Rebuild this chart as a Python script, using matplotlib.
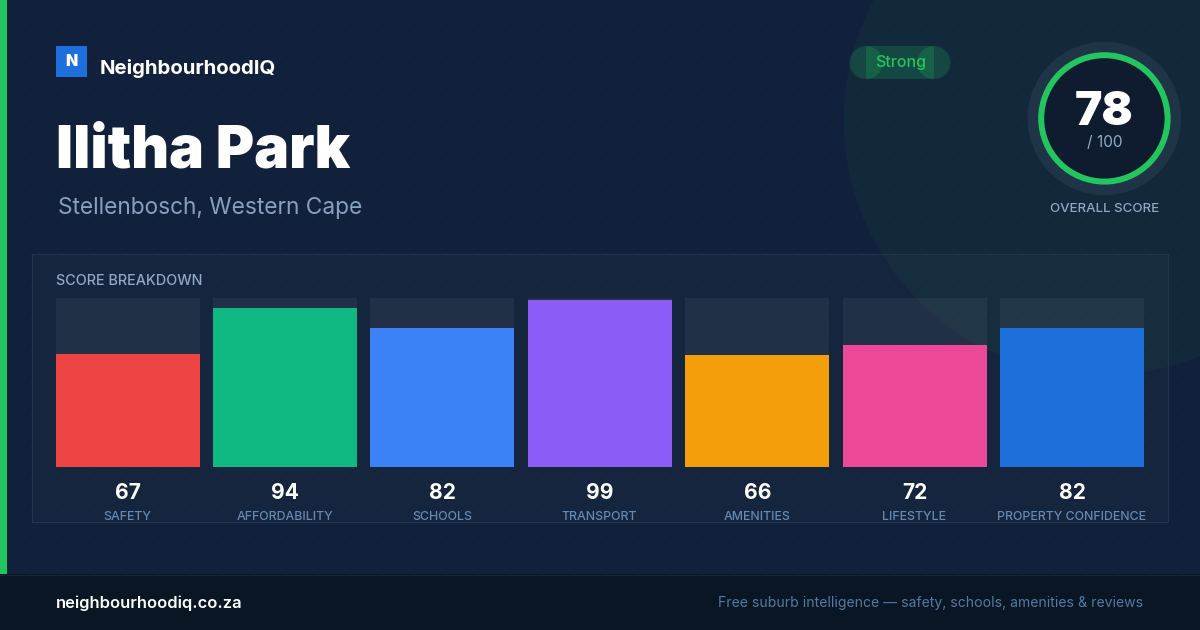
import matplotlib
matplotlib.use("Agg")
import matplotlib.pyplot as plt
from matplotlib.patches import Circle, Rectangle

categories = ["SAFETY", "AFFORDABILITY", "SCHOOLS", "TRANSPORT", "AMENITIES", "LIFESTYLE", "PROPERTY CONFIDENCE"]
scores = [67, 94, 82, 99, 66, 72, 82]
bar_colors = ["#ef4444", "#10b981", "#3b82f6", "#8b5cf6", "#f59e0b", "#ec4899", "#1d6fdb"]
overall = 78
max_score = 100

plt.rcParams['font.family'] = ['Inter', 'DejaVu Sans']

fig = plt.figure(figsize=(12, 6.3), dpi=100)
bg = fig.add_axes([0, 0, 1, 1])
bg.set_xlim(0, 1200)
bg.set_ylim(630, 0)
bg.axis("off")


def px(size):
    # css pixels to points
    return size * 0.72


# background
bg.add_patch(Rectangle((0, 0), 1200, 630, fc="#12213b", ec="none", zorder=0))
bg.add_patch(Circle((1100, 120), 256, fc="#22c55e", alpha=0.05, ec="none", zorder=1))

# dot pattern
dot_x = list(range(24, 1200, 32))
dot_y = list(range(24, 574, 32))
bg.scatter([x for x in dot_x for y in dot_y], [y for x in dot_x for y in dot_y],
           s=3, c="#ffffff", alpha=0.022, linewidths=0, zorder=2)

# side stripe and footer
bg.add_patch(Rectangle((0, 0), 7, 574, fc="#22c55e", ec="none", zorder=3))
bg.add_patch(Rectangle((0, 574), 1200, 56, fc="#0a1624", ec="none", zorder=3))
bg.plot([0, 1200], [574.5, 574.5], color="#16243a", lw=0.8, zorder=4)

# logo
bg.add_patch(Rectangle((56, 46), 31, 31, fc="#1d6fdb", ec="none", zorder=4))
bg.text(71.5, 61, "N", color="white", fontsize=px(16), fontweight="black", ha="center", va="center", zorder=5)
bg.text(100, 68.5, "NeighbourhoodIQ", color="white", fontsize=px(20.35), fontweight="bold", ha="left", va="center", zorder=5)

# title
bg.text(56, 168, "Ilitha Park", color="white", fontsize=px(58.7), fontweight="black", ha="left", va="baseline", zorder=5)
bg.text(58, 214, "Stellenbosch, Western Cape", color="#86a1bf", fontsize=px(22.7), ha="left", va="baseline", zorder=5)

# badge
for cx in [866, 934]:
    bg.add_patch(Circle((cx, 62.5), 16.5, fc="#22c55e", alpha=0.2, ec="none", zorder=4))
bg.add_patch(Rectangle((866, 46), 68, 33, fc="#22c55e", alpha=0.2, ec="none", zorder=4))
bg.text(900.5, 67, "Strong", color="#22c55e", fontsize=px(16), fontweight="medium", ha="center", va="baseline", zorder=5)

# score ring
cx, cy = 1104.4, 118.4
bg.add_patch(Circle((cx, cy), 76.7, fc="#ffffff", alpha=0.06, ec="none", zorder=4))
bg.add_patch(Circle((cx, cy), 63.2, fc="#0f1b2e", ec="#22c55e", lw=px(6), zorder=5))
bg.text(cx, 125, str(overall), color="white", fontsize=px(46), fontweight="black", ha="center", va="baseline", zorder=6)
bg.text(cx, 147, "/ " + str(max_score), color="#8fa8c4", fontsize=px(15.5), ha="center", va="baseline", zorder=6)
bg.text(cx, 212.5, "OVERALL SCORE", color="#8fa8c4", fontsize=px(13.3), fontweight="medium", ha="center", va="baseline", zorder=6)

# breakdown panel
bg.add_patch(Rectangle((32, 254), 1136, 268, fc="#ffffff", alpha=0.02, ec="none", zorder=3))
bg.add_patch(Rectangle((32, 254), 1136, 268, fc="none", ec="#23344e", lw=0.8, zorder=3))
bg.text(56, 285, "SCORE BREAKDOWN", color="#8fa8c4", fontsize=px(14.4), fontweight="medium", ha="left", va="baseline", zorder=5)

# bars on their own axes, y in score units
ax = fig.add_axes([55.6 / 1200, 1 - 467 / 630, 1088.4 / 1200, 169 / 630])
ax.patch.set_alpha(0)
ax.axis("off")
ax.set_ylim(0, max_score)
w = 144 / 157.4
ax.set_xlim(-0.5 * w, 6 + 0.5 * w)
xs = list(range(len(categories)))
ax.bar(xs, [max_score] * len(xs), width=w, color="#ffffff", alpha=0.05, linewidth=0)
ax.bar(xs, scores, width=w, color=bar_colors, linewidth=0)

# labels under the bars
for i, (name, val) in enumerate(zip(categories, scores)):
    tx = 128 + i * 157.33
    bg.text(tx, 499, str(val), color="white", fontsize=px(21), fontweight="bold", ha="center", va="baseline", zorder=5)
    bg.text(tx - 0.5, 520, name, color="#648ab4", fontsize=px(12.35), fontweight="medium", ha="center", va="baseline", zorder=5)

# footer text
bg.text(56, 608, "neighbourhoodiq.co.za", color="white", fontsize=px(16.45), fontweight="semibold", ha="left", va="baseline", zorder=5)
bg.text(1143.5, 607, "Free suburb intelligence \u2014 safety, schools, amenities & reviews", color="#527aa3",
        fontsize=px(14.03), ha="right", va="baseline", zorder=5)

fig.savefig("out.png", dpi=100)
